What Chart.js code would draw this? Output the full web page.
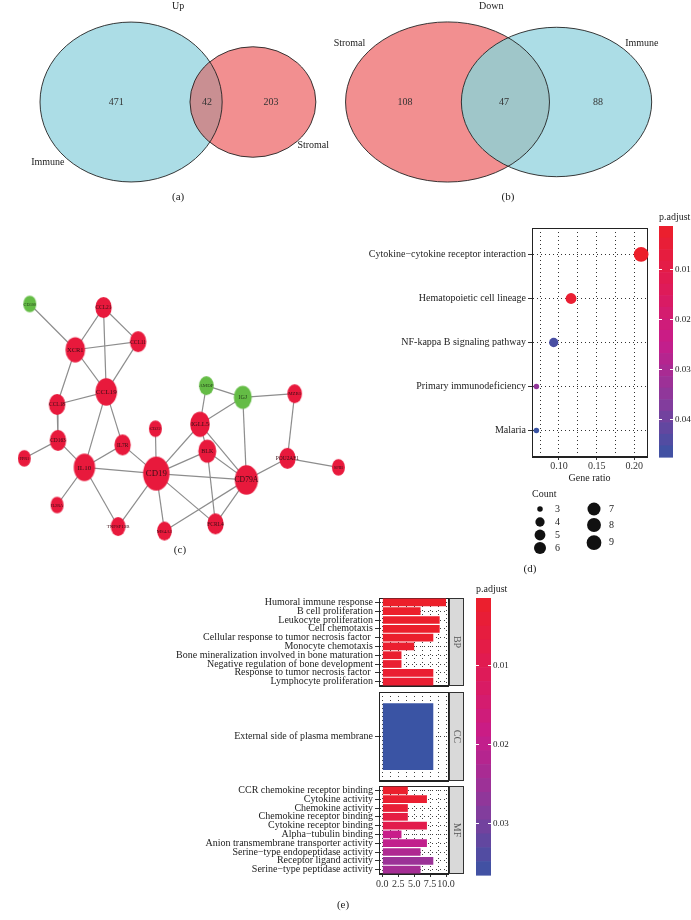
<!DOCTYPE html>
<html>
<head>
<meta charset="utf-8">
<script src="https://cdn.jsdelivr.net/npm/chart.js@4.4.1/dist/chart.umd.min.js"></script>
<style>
  body { margin: 0; background: #fff; }
  #fig { position: relative; width: 691px; height: 920px; overflow: hidden; background: #fff; }
  #fig canvas { position: absolute; }
</style>
</head>
<body>
<div id="fig">
  <canvas id="vennUp" width="345" height="212" style="left:0;top:0"></canvas>
  <canvas id="vennDown" width="371" height="212" style="left:320px;top:0"></canvas>
  <canvas id="network" width="400" height="350" style="left:0;top:225px"></canvas>
  <canvas id="kegg" width="331" height="380" style="left:360px;top:200px"></canvas>
  <canvas id="goBP" width="691" height="345" style="left:0;top:575px"></canvas>
  <canvas id="goCC" width="691" height="345" style="left:0;top:575px"></canvas>
  <canvas id="goMF" width="691" height="345" style="left:0;top:575px"></canvas>
</div>
<script>
const SERIF = "'Liberation Serif', 'DejaVu Serif', serif";
Chart.defaults.font.family = SERIF;
Chart.defaults.font.size = 10;
Chart.defaults.color = '#222';
Chart.defaults.animation = false;
Chart.defaults.responsive = false;
Chart.defaults.events = [];
Chart.defaults.plugins.legend.display = false;
Chart.defaults.plugins.tooltip.enabled = false;

// (a), (b) Venn counts: [first set only, shared, second set only]
const upSets = ['Immune', 'Stromal'];
const upCounts = [471, 42, 203];
const downSets = ['Stromal', 'Immune'];
const downCounts = [108, 47, 88];

// (c) PPI network
const geneNames = ['CD300', 'CCL21', 'XCR1', 'CCL11', 'CCL19', 'CCL18', 'CD163', 'FPR1', 'IL10', 'IL7R',
  'IL2RA', 'TNFSF13B', 'CD19', 'CD22', 'MS4A1', 'IGLL5', 'BLK', 'CD79A', 'FCRL4', 'POU2AF1',
  'SPIB', 'AMDP', 'IGJ', 'MZB1'];
const downGenes = ['CD300', 'AMDP', 'IGJ'];
const interactions = [
  ['CD300', 'XCR1'], ['CCL21', 'XCR1'], ['CCL21', 'CCL11'], ['CCL21', 'CCL19'],
  ['XCR1', 'CCL11'], ['XCR1', 'CCL19'], ['XCR1', 'CCL18'], ['CCL11', 'CCL19'],
  ['CCL19', 'CCL18'], ['CCL19', 'IL10'], ['CCL19', 'IL7R'], ['CCL18', 'CD163'],
  ['CD163', 'FPR1'], ['CD163', 'IL10'], ['IL10', 'IL7R'], ['IL10', 'CD19'],
  ['IL10', 'IL2RA'], ['IL10', 'TNFSF13B'], ['IL7R', 'CD19'], ['CD19', 'CD22'],
  ['CD19', 'IGLL5'], ['CD19', 'BLK'], ['CD19', 'CD79A'], ['CD19', 'TNFSF13B'],
  ['CD19', 'MS4A1'], ['CD19', 'FCRL4'], ['MS4A1', 'CD79A'], ['IGLL5', 'IGJ'],
  ['IGLL5', 'BLK'], ['IGLL5', 'CD79A'], ['IGLL5', 'AMDP'], ['BLK', 'CD79A'],
  ['BLK', 'FCRL4'], ['FCRL4', 'CD79A'], ['IGJ', 'CD79A'], ['IGJ', 'MZB1'],
  ['IGJ', 'AMDP'], ['CD79A', 'POU2AF1'], ['POU2AF1', 'MZB1'], ['POU2AF1', 'SPIB']
];

// (d) KEGG enrichment
const keggTerms = ['Cytokine\u2212cytokine receptor interaction', 'Hematopoietic cell lineage',
  'NF-kappa B signaling pathway', 'Primary immunodeficiency', 'Malaria'];
const keggRatio = [0.209, 0.116, 0.093, 0.070, 0.070];
const keggCount = [9, 5, 4, 3, 3];
const keggPadj = [0.0013, 0.0035, 0.0455, 0.0345, 0.0476];
const ratioTicks = [0.10, 0.15, 0.20];
const keggPadjTicks = [0.01, 0.02, 0.03, 0.04];
const countKeys = [3, 4, 5, 6, 7, 8, 9];

// (e) GO enrichment
const bpTerms = ['Humoral immune response', 'B cell proliferation', 'Leukocyte proliferation', 'Cell chemotaxis',
  'Cellular response to tumor necrosis factor ', 'Monocyte chemotaxis',
  'Bone mineralization involved in bone maturation', 'Negative regulation of bone development',
  'Response to tumor necrosis factor ', 'Lymphocyte proliferation'];
const bpCount = [10, 6, 9, 9, 8, 5, 3, 3, 8, 8];
const bpPadj = [0.0016, 0.0018, 0.002, 0.002, 0.0022, 0.0025, 0.0028, 0.003, 0.003, 0.0032];
const ccTerms = ['External side of plasma membrane'];
const ccCount = [8];
const ccPadj = [0.0366];
const mfTerms = ['CCR chemokine receptor binding', 'Cytokine activity', 'Chemokine activity',
  'Chemokine receptor binding', 'Cytokine receptor binding', 'Alpha\u2212tubulin binding',
  'Anion transmembrane transporter activity', 'Serine\u2212type endopeptidase activity',
  'Receptor ligand activity', 'Serine\u2212type peptidase activity'];
const mfCount = [4, 7, 4, 4, 7, 3, 7, 6, 8, 6];
const mfPadj = [0.0022, 0.0029, 0.0043, 0.0068, 0.0085, 0.019, 0.0201, 0.0226, 0.0254, 0.024];
const countTicks = [0, 2.5, 5, 7.5, 10];
const goPadjTicks = [0.01, 0.02, 0.03];

// ---- colour scale red -> blue (p.adjust) ----
const padjStops = [[0, [236, 31, 42]], [0.25, [224, 27, 84]], [0.5, [200, 28, 138]], [0.75, [138, 58, 156]], [1, [58, 84, 164]]];
function padjColor(p, lo, hi) {
  const f = Math.min(1, Math.max(0, (p - lo) / (hi - lo)));
  for (let i = 1; i < padjStops.length; i++) {
    const [f0, c0] = padjStops[i - 1], [f1, c1] = padjStops[i];
    if (f <= f1) {
      const t = (f - f0) / (f1 - f0);
      return 'rgb(' + c0.map((v, j) => Math.round(v + (c1[j] - v) * t)).join(',') + ')';
    }
  }
}

function drawColorbar(ctx, x, y0, w, h, lo, hi, ticks, title) {
  const n = 20;
  for (let i = 0; i < n; i++) {
    ctx.fillStyle = padjColor(lo + (hi - lo) * (i + 0.5) / n, lo, hi);
    ctx.fillRect(x, y0 + h * i / n, w, h / n + 0.6);
  }
  ctx.textBaseline = 'middle';
  ctx.textAlign = 'left';
  ctx.fillStyle = '#222';
  ctx.font = '10px ' + SERIF;
  ctx.fillText(title, x, y0 - 9);
  ctx.font = '9px ' + SERIF;
  ticks.forEach(t => {
    const y = Math.round(y0 + (t - lo) / (hi - lo) * h) + 0.5;
    ctx.strokeStyle = '#fff';
    ctx.lineWidth = 1;
    ctx.beginPath();
    ctx.moveTo(x, y); ctx.lineTo(x + 3, y);
    ctx.moveTo(x + w - 3, y); ctx.lineTo(x + w, y);
    ctx.stroke();
    ctx.fillText(t.toFixed(2), x + w + 2, y);
  });
}

const frame = {
  id: 'frame',
  beforeDatasetsDraw(chart) {
    const { ctx, chartArea: a } = chart;
    ctx.save();
    ctx.strokeStyle = '#222';
    ctx.lineWidth = 1;
    ctx.strokeRect(Math.round(a.left) + 0.5, Math.round(a.top) + 0.5, Math.round(a.width), Math.round(a.height) - 1);
    ctx.restore();
  }
};

// ---- (a), (b) Venn diagrams: circle radius = sqrt(set size) in data units ----
function vennChart(id, sets, counts, cfg) {
  const venn = {
    id: 'venn',
    afterDraw(chart) {
      const { ctx, scales: { x, y } } = chart;
      const radii = [Math.sqrt(counts[0] + counts[1]), Math.sqrt(counts[1] + counts[2])];
      const path = i => {
        const [cx, cy] = cfg.centers[i];
        const px = x.getPixelForValue(cx), py = y.getPixelForValue(cy);
        const rx = Math.abs(x.getPixelForValue(cx + radii[i]) - px);
        const ry = Math.abs(y.getPixelForValue(cy + radii[i]) - py);
        ctx.beginPath();
        ctx.ellipse(px, py, rx, ry, 0, 0, Math.PI * 2);
      };
      ctx.save();
      [0, 1].forEach(i => { path(i); ctx.fillStyle = cfg.fills[i]; ctx.fill(); });
      ctx.save(); path(0); ctx.clip(); path(1); ctx.fillStyle = cfg.overlap; ctx.fill(); ctx.restore();
      ctx.strokeStyle = '#222';
      ctx.lineWidth = 0.9;
      [0, 1].forEach(i => { path(i); ctx.stroke(); });
      ctx.fillStyle = '#333';
      ctx.font = '10px ' + SERIF;
      ctx.textAlign = 'center';
      ctx.textBaseline = 'middle';
      counts.forEach((c, i) => ctx.fillText(String(c), x.getPixelForValue(cfg.numPos[i][0]), y.getPixelForValue(cfg.numPos[i][1])));
      ctx.fillStyle = '#222';
      sets.forEach((s, i) => ctx.fillText(s, x.getPixelForValue(cfg.setPos[i][0]), y.getPixelForValue(cfg.setPos[i][1])));
      ctx.fillText(cfg.title, x.getPixelForValue(cfg.titlePos[0]), y.getPixelForValue(cfg.titlePos[1]));
      ctx.font = '11px ' + SERIF;
      ctx.fillText(cfg.tag, x.getPixelForValue(cfg.tagPos[0]), y.getPixelForValue(cfg.tagPos[1]));
      ctx.restore();
    }
  };
  return new Chart(document.getElementById(id), {
    type: 'scatter',
    data: { datasets: [] },
    options: {
      layout: { padding: 0 },
      scales: {
        x: { type: 'linear', display: false, min: 0, max: cfg.xMax },
        y: { type: 'linear', display: false, min: 0, max: cfg.yMax, reverse: true }
      }
    },
    plugins: [venn]
  });
}

vennChart('vennUp', upSets, upCounts, {
  xMax: 85.8, yMax: 60.06,
  centers: [[32.6, 28.9], [62.9, 28.9]],
  fills: ['#ACDDE6', '#F28F90'], overlap: '#C98F92',
  numPos: [[28.9, 28.9], [51.5, 28.9], [67.4, 28.9]],
  setPos: [[11.9, 45.9], [77.9, 41.1]],
  title: 'Up', titlePos: [44.3, 1.8], tag: '(a)', tagPos: [44.3, 55.8]
});
vennChart('vennDown', downSets, downCounts, {
  xMax: 45.3, yMax: 32.97,
  centers: [[15.57, 15.86], [28.88, 15.86]],
  fills: ['#F28F90', '#ACDDE6'], overlap: '#9FC6C9',
  numPos: [[10.38, 15.86], [22.47, 15.86], [33.94, 15.86]],
  setPos: [[3.6, 6.69], [39.3, 6.69]],
  title: 'Down', titlePos: [20.9, 0.95], tag: '(b)', tagPos: [22.95, 30.64]
});

// ---- (c) network ----
const netLayout = {
  CD300: [13, 293], CCL21: [94, 297], XCR1: [63, 344], CCL11: [132, 335], CCL19: [97, 391],
  CCL18: [43, 405], CD163: [44, 445], FPR1: [7, 465], IL10: [73, 475], IL7R: [115, 450],
  IL2RA: [43, 517], TNFSF13B: [110, 541], CD19: [152, 482], CD22: [151, 432], MS4A1: [161, 546],
  IGLL5: [200, 427], BLK: [208, 457], CD79A: [251, 489], FCRL4: [217, 538], POU2AF1: [296, 465],
  SPIB: [352, 475], AMDP: [207, 384], IGJ: [247, 397], MZB1: [304, 393]
};
const degree = {};
interactions.forEach(([a, b]) => { degree[a] = (degree[a] || 0) + 1; degree[b] = (degree[b] || 0) + 1; });
const nodeH = g => 14.5 + 2.15 * degree[g];
const nodeW = g => 0.78 * nodeH(g);
const nodeColor = g => downGenes.includes(g) ? '#64BC45' : '#E8193C';

function nodeImage(g) {
  const w = nodeW(g), h = nodeH(g);
  const c = document.createElement('canvas');
  c.width = Math.ceil(w) + 2;
  c.height = Math.ceil(h) + 2;
  const g2 = c.getContext('2d');
  g2.fillStyle = nodeColor(g);
  g2.beginPath();
  g2.ellipse(c.width / 2, c.height / 2, w / 2, h / 2, 0, 0, Math.PI * 2);
  g2.fill();
  return c;
}

const edgeSets = interactions.map(([a, b]) => ({
  type: 'scatter', showLine: true, order: 1,
  data: [{ x: netLayout[a][0], y: netLayout[a][1] }, { x: netLayout[b][0], y: netLayout[b][1] }],
  borderColor: '#8d8d8d', borderWidth: 1.2, pointRadius: 0
}));
const nodeSet = {
  order: 0,
  data: geneNames.map(g => ({ x: netLayout[g][0], y: netLayout[g][1] })),
  pointStyle: geneNames.map(nodeImage),
  pointRadius: geneNames.map(g => nodeH(g) / 2)
};
const nodeLabels = {
  id: 'nodeLabels',
  afterDatasetsDraw(chart) {
    const { ctx, scales: { x, y } } = chart;
    ctx.save();
    ctx.textAlign = 'center';
    ctx.textBaseline = 'middle';
    geneNames.forEach(g => {
      const fs = Math.max(3.5, nodeH(g) * 0.26);
      ctx.font = fs + 'px ' + SERIF;
      ctx.fillStyle = downGenes.includes(g) ? '#24401a' : '#3a0d14';
      ctx.fillText(g, x.getPixelForValue(netLayout[g][0]), y.getPixelForValue(netLayout[g][1]) + 0.5);
    });
    ctx.font = '11px ' + SERIF;
    ctx.fillStyle = '#222';
    ctx.fillText('(c)', x.getPixelForValue(178), y.getPixelForValue(567));
    ctx.restore();
  }
};
new Chart(document.getElementById('network'), {
  type: 'scatter',
  data: { datasets: [nodeSet, ...edgeSets] },
  options: {
    layout: { padding: 0 },
    scales: {
      x: { type: 'linear', display: false, min: 0, max: 400 },
      y: { type: 'linear', display: false, min: 225, max: 575, reverse: true }
    }
  },
  plugins: [nodeLabels]
});

// ---- (d) KEGG dot plot ----
const kLo = 0.0013, kHi = 0.0476;
const dotRadius = c => 0.92 * (3 + 5 * Math.sqrt((c - 3) / 6));
const keggExtras = {
  id: 'keggExtras',
  afterDraw(chart) {
    const { ctx } = chart;
    ctx.save();
    drawColorbar(ctx, 299, 26, 14, 231, kLo, kHi, keggPadjTicks, 'p.adjust');
    ctx.fillStyle = '#222';
    ctx.font = '10px ' + SERIF;
    ctx.textAlign = 'left';
    ctx.textBaseline = 'middle';
    ctx.fillText('Count', 172, 294);
    const legendPos = [[180, 309], [180, 322], [180, 335], [180, 348], [234, 309], [234, 325], [234, 342.7]];
    countKeys.forEach((c, i) => {
      const [lx, ly] = legendPos[i];
      ctx.fillStyle = '#111';
      ctx.beginPath();
      ctx.arc(lx, ly, dotRadius(c), 0, Math.PI * 2);
      ctx.fill();
      ctx.fillStyle = '#222';
      ctx.fillText(String(c), lx + 15, ly);
    });
    ctx.font = '11px ' + SERIF;
    ctx.textAlign = 'center';
    ctx.fillText('(d)', 170, 369);
    ctx.restore();
  }
};
const dotted = { color: '#222', width: 1, dash: [1, 3] };
new Chart(document.getElementById('kegg'), {
  type: 'bubble',
  data: {
    datasets: [{
      data: keggTerms.map((t, i) => ({ x: keggRatio[i], y: keggTerms.length - i, r: dotRadius(keggCount[i]) })),
      backgroundColor: keggPadj.map(p => padjColor(p, kLo, kHi)),
      borderWidth: 0,
      clip: false
    }]
  },
  options: {
    layout: { padding: { left: 0, right: 44, top: 28, bottom: 93 } },
    scales: {
      x: {
        type: 'linear', min: 0.0642, max: 0.2168,
        afterBuildTicks: s => { s.ticks = [0.075, 0.1, 0.125, 0.15, 0.175, 0.2].map(v => ({ value: v })); },
        afterFit: s => { s.height = 30; },
        ticks: { autoSkip: false, maxRotation: 0, padding: 0, color: '#333', callback: v => ratioTicks.includes(v) ? v.toFixed(2) : '' },
        grid: { color: 'rgba(0,0,0,0.8)', tickLength: 3, tickColor: c => ratioTicks.includes(c.tick.value) ? '#333' : 'rgba(0,0,0,0)' },
        border: dotted,
        title: { display: true, text: 'Gene ratio', color: '#222', font: { size: 10 }, padding: { top: 0, bottom: 3 } }
      },
      y: {
        type: 'linear', min: 0.4, max: 5.6,
        afterBuildTicks: s => { s.ticks = [1, 2, 3, 4, 5].map(v => ({ value: v })); },
        afterFit: s => { s.width = 172; },
        ticks: { autoSkip: false, padding: 2, color: '#222', callback: v => keggTerms[keggTerms.length - v] },
        grid: { color: 'rgba(0,0,0,0.8)', tickLength: 4, tickColor: '#333' },
        border: dotted
      }
    }
  },
  plugins: [frame, keggExtras]
});

// ---- (e) GO bar panels ----
const gLo = 0.0015, gHi = 0.0366;
function stripPlugin(label) {
  return {
    id: 'strip',
    afterDraw(chart) {
      const { ctx, chartArea: a } = chart;
      const x0 = Math.round(a.right) + 1.5, y0 = Math.round(a.top) + 0.5, h = Math.round(a.height) - 1;
      ctx.save();
      ctx.fillStyle = '#D9D9D9';
      ctx.fillRect(x0, y0, 14, h);
      ctx.strokeStyle = '#333';
      ctx.lineWidth = 1;
      ctx.strokeRect(x0, y0, 14, h);
      ctx.translate(x0 + 7, y0 + h / 2);
      ctx.rotate(Math.PI / 2);
      ctx.fillStyle = '#555';
      ctx.font = '10px ' + SERIF;
      ctx.textAlign = 'center';
      ctx.textBaseline = 'middle';
      ctx.fillText(label, 0, 0);
      ctx.restore();
    }
  };
}
const goExtras = {
  id: 'goExtras',
  afterDraw(chart) {
    const { ctx } = chart;
    ctx.save();
    drawColorbar(ctx, 476, 23, 15, 277, gLo, gHi, goPadjTicks, 'p.adjust');
    ctx.fillStyle = '#222';
    ctx.font = '11px ' + SERIF;
    ctx.textAlign = 'center';
    ctx.textBaseline = 'middle';
    ctx.fillText('(e)', 343, 330);
    ctx.restore();
  }
};
function goPanel(id, terms, counts, padj, opt) {
  const plugins = [frame, stripPlugin(opt.strip)];
  if (opt.showX) plugins.push(goExtras);
  return new Chart(document.getElementById(id), {
    type: 'bar',
    data: {
      labels: terms,
      datasets: [{
        data: counts,
        backgroundColor: padj.map(p => padjColor(p, gLo, gHi)),
        borderWidth: 0,
        barPercentage: opt.bar,
        categoryPercentage: 1
      }]
    },
    options: {
      indexAxis: 'y',
      layout: { padding: { left: 0, right: 243, top: opt.top, bottom: opt.bottom } },
      scales: {
        x: {
          type: 'linear', min: -0.53, max: 10.31,
          afterBuildTicks: s => { s.ticks = [0, 1.25, 2.5, 3.75, 5, 6.25, 7.5, 8.75, 10].map(v => ({ value: v })); },
          afterFit: s => { s.height = opt.showX ? 18 : 0; },
          ticks: { display: opt.showX, autoSkip: false, maxRotation: 0, minRotation: 0, padding: 1, color: '#333',
            callback: v => countTicks.includes(v) ? v.toFixed(1) : '' },
          grid: { color: 'rgba(0,0,0,0.75)', drawTicks: opt.showX, tickLength: 3,
            tickColor: c => countTicks.includes(c.tick.value) ? '#333' : 'rgba(0,0,0,0)' },
          border: dotted
        },
        y: {
          type: 'category', offset: true,
          afterFit: s => { s.width = 379; },
          ticks: { autoSkip: false, padding: 2, color: '#222' },
          grid: { offset: false, color: 'rgba(0,0,0,0.75)', tickLength: 4, tickColor: '#333' },
          border: dotted
        }
      }
    },
    plugins
  });
}
goPanel('goBP', bpTerms, bpCount, bpPadj, { strip: 'BP', bar: 0.88, top: 23, bottom: 234, showX: false });
goPanel('goCC', ccTerms, ccCount, ccPadj, { strip: 'CC', bar: 0.75, top: 117, bottom: 139, showX: false });
goPanel('goMF', mfTerms, mfCount, mfPadj, { strip: 'MF', bar: 0.88, top: 211, bottom: 28, showX: true });
</script>
</body>
</html>
